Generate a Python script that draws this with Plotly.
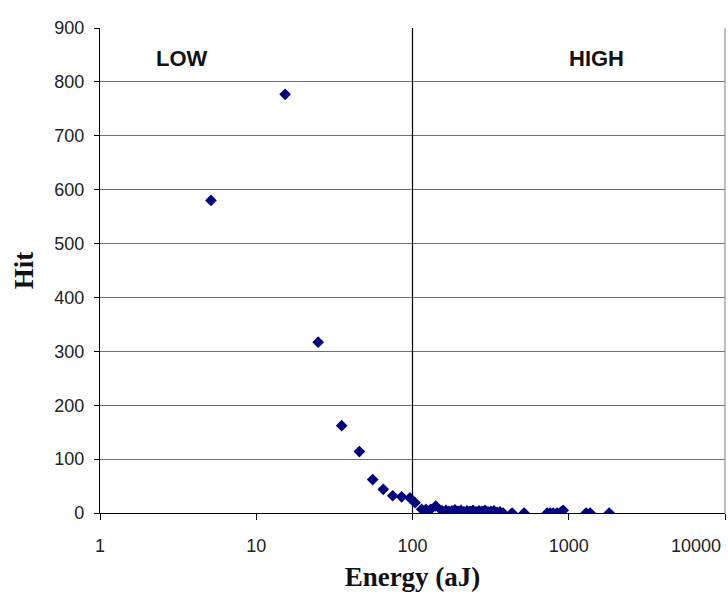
import plotly.graph_objects as go

# Energy (aJ) and hit counts
energy = [5.13, 15.3, 24.9, 35.2, 45.7, 55.6, 65.0, 74.7, 85.2, 96.4,
          103.8, 114.5, 122.0, 130.8, 140.8,
          154.5, 163.8, 171.2, 178.9, 187.1, 195.5, 204.3, 213.6, 223.3, 233.3,
          243.9, 254.9, 266.4, 278.4, 291.1, 304.2, 318.0, 332.4, 347.4, 363.1,
          380, 434, 518, 728, 760, 795, 843, 894, 921, 1292, 1371, 1814]
hits = [580, 777, 317, 162, 114, 62, 44, 32, 30, 28,
        19, 7, 7, 7, 13,
        4, 5, 3, 4, 6, 3, 5, 2, 4, 3,
        5, 2, 4, 3, 5, 2, 3, 4, 1, 2,
        0, 0, 0, 0, 0, 0, 0, 2, 5, 0, 0, 0]

y_ticks = [0, 100, 200, 300, 400, 500, 600, 700, 800, 900]
x_ticks = [1, 10, 100, 1000, 10000]
x_tick_text = ["1", "10", "100", "1000", "10000"]
region_labels = ["LOW", "HIGH"]
boundary = 100

fig = go.Figure()

fig.add_trace(go.Scatter(
    x=[boundary, boundary], y=[y_ticks[0], y_ticks[-1]],
    mode="lines", line=dict(color="#000000", width=1.2),
    hoverinfo="skip", showlegend=False,
))

fig.add_trace(go.Scatter(
    x=energy, y=hits, mode="markers",
    marker=dict(symbol="diamond", size=9, color="#000080",
                line=dict(width=0)),
    showlegend=False,
))

tick_font = dict(size=18, color="#222222",
                 family="Liberation Sans, Arial, sans-serif")
title_font = dict(family="Liberation Serif, Times New Roman, serif",
                  size=27, color="#111111")
label_font = dict(size=22, color="#111111",
                  family="Liberation Sans, Arial, sans-serif")

fig.update_layout(
    width=728, height=599,
    margin=dict(l=100, r=3, t=28, b=86, autoexpand=False),
    paper_bgcolor="white", plot_bgcolor="white",
    font=dict(family="Liberation Sans, Arial, sans-serif", color="#222222"),
    xaxis=dict(
        type="log", range=[0, 4], automargin=False,
        tickvals=x_ticks, ticktext=x_tick_text[:-1] + [""],
        showgrid=False, zeroline=False,
        showline=True, linecolor="#000000", linewidth=1.2,
        ticks="outside", ticklen=6, tickcolor="#000000", tickwidth=1,
        tickfont=tick_font,
        ticklabelstandoff=10,
        title=dict(text="<b>Energy (aJ)</b>", font=title_font, standoff=12),
    ),
    yaxis=dict(
        range=[0, 900], tickvals=y_ticks, automargin=False,
        showgrid=True, gridcolor="#707070", gridwidth=1.2,
        zeroline=False,
        showline=True, linecolor="#000000", linewidth=1.2,
        ticks="outside", ticklen=5, tickcolor="#000000", tickwidth=1,
        tickfont=tick_font,
        ticklabelstandoff=6,
        title=dict(text="<b>Hit</b>", font=title_font, standoff=12),
    ),
    shapes=[dict(type="line", xref="paper", yref="paper",
                 x0=1, x1=1, y0=0, y1=1,
                 line=dict(color="#909090", width=1.2))],
    annotations=[
        dict(text="<b>%s</b>" % region_labels[0], xref="paper", yref="paper",
             x=0.131, y=0.938, xanchor="center", yanchor="middle",
             showarrow=False, font=label_font),
        dict(text="<b>%s</b>" % region_labels[1], xref="paper", yref="paper",
             x=0.795, y=0.938, xanchor="center", yanchor="middle",
             showarrow=False, font=label_font),
        dict(text=x_tick_text[-1], xref="paper", yref="paper",
             x=1, y=0, xanchor="right", yanchor="top", yshift=-21, xshift=-2,
             showarrow=False, font=tick_font),
    ],
)

fig.write_html("out.html",
               config={"displayModeBar": False},
               post_script="document.body.style.margin='0';"
                           "document.body.style.overflow='hidden';")
